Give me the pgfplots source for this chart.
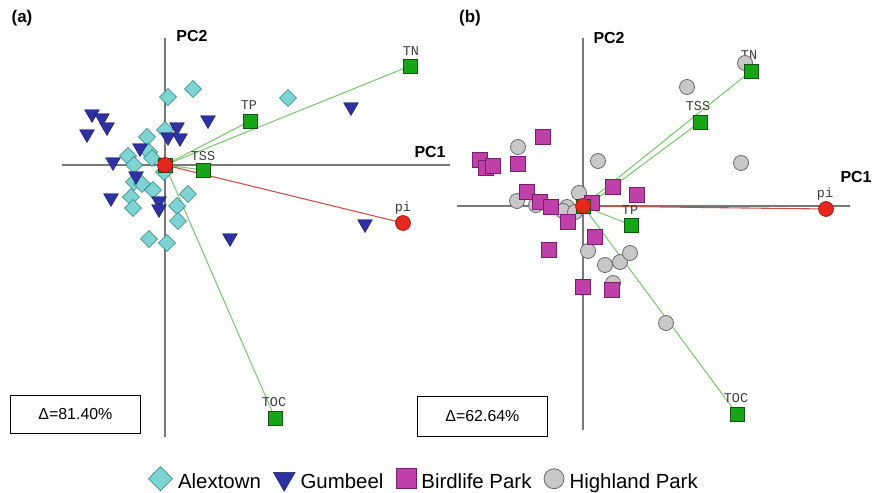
\documentclass[border=0pt]{standalone}
\usepackage{pgfplots}
\pgfplotsset{compat=1.18}
\usepackage{fontspec}
\setmainfont{Liberation Sans}
\newfontfamily\vecfont{Liberation Mono}
\definecolor{alexfill}{RGB}{125,212,210}
\definecolor{alexedge}{RGB}{40,130,130}
\definecolor{gumfill}{RGB}{45,50,160}
\definecolor{gumedge}{RGB}{30,30,110}
\definecolor{birdfill}{RGB}{192,64,170}
\definecolor{birdedge}{RGB}{120,30,110}
\definecolor{highfill}{RGB}{200,200,200}
\definecolor{highedge}{RGB}{105,105,105}
\definecolor{vecfill}{RGB}{25,165,25}
\definecolor{vecedge}{RGB}{15,85,15}
\definecolor{pifill}{RGB}{228,40,30}
\definecolor{piedge}{RGB}{150,20,20}
\definecolor{vecline}{RGB}{130,200,120}
\definecolor{piline}{RGB}{200,80,80}
\definecolor{axline}{RGB}{120,120,120}
\definecolor{labgray}{RGB}{60,60,60}
\pgfplotsset{
  pca/.style={x=1bp,y=1bp,axis lines=none,clip=false,anchor=south west},
  alex/.style={only marks,mark=square*,mark size=6bp,mark options={rotate=45,fill=alexfill,draw=alexedge,line width=0.6pt}},
  gum/.style={only marks,mark=triangle*,mark size=8.5bp,mark options={rotate=180,fill=gumfill,draw=gumedge,line width=0.5pt}},
  bird/.style={only marks,mark=square*,mark size=7.5bp,mark options={fill=birdfill,draw=birdedge,line width=0.6pt}},
  high/.style={only marks,mark=*,mark size=7.5bp,mark options={fill=highfill,draw=highedge,line width=0.8pt}},
  vsq/.style={only marks,mark=square*,mark size=7bp,mark options={fill=vecfill,draw=vecedge,line width=0.6pt}},
  vpi/.style={only marks,mark=*,mark size=7.5bp,mark options={fill=pifill,draw=piedge,line width=0.6pt}},
  vl/.style={vecline,line width=1.1pt,no marks},
  pl/.style={piline,line width=1.1pt,no marks},
  axl/.style={axline,line width=1.3pt,no marks},
}
\newcommand{\vlab}[1]{{\vecfont\fontsize{13.5}{13.5}\selectfont\color{labgray}#1}}
\begin{document}
\begin{tikzpicture}
\path[use as bounding box] (0,0) rectangle (878bp,493bp);
% ---------------- panel (a)
\begin{axis}[pca,at={(60bp,53bp)},xmin=-105,xmax=290,ymin=-275,ymax=135,
  legend columns=4,
  legend image code/.code={\draw[#1] plot coordinates {(0cm,0.35em)};},
  legend style={at={(0.920,-0.0951)},anchor=center,draw=none,fill=none,
    font=\fontsize{20.5}{22}\selectfont,
    nodes={inner sep=0.5bp},
    /tikz/every odd column/.append style={column sep=5bp},
    /tikz/every even column/.append style={column sep=12bp}},
  legend cell align=left]
\addplot[axl,forget plot] coordinates {(-103,0) (285,0)};
\addplot[axl,forget plot] coordinates {(0,127) (0,-272)};
\addplot[vl,forget plot] coordinates {(0,0) (245,99)};
\addplot[vl,forget plot] coordinates {(0,0) (85,44)};
\addplot[vl,forget plot] coordinates {(0,0) (38,-5)};
\addplot[vl,forget plot] coordinates {(0,0) (110,-253)};
\addplot[pl,forget plot] coordinates {(0,0) (238,-58)};
\addplot[alex,forget plot] coordinates {
(3,68) (28,76) (123,67) (0,35) (-18,28) (-37,9) (-16,13) (-13,7) (-31,0)
(-31,-17) (-23,-19) (-12,-25) (-34,-32) (-32,-43) (23,-29) (12,-41)
(13,-56) (-16,-74) (2,-78) (-1,-7)};
\addplot[gum,forget plot] coordinates {
(-73,51) (-63,47) (-58,38) (-78,31) (43,45) (12,38) (3,28) (15,27)
(186,58) (-25,17) (-52,3) (-29,-11) (-54,-33) (-6,-36) (-6,-44)
(200,-59) (65,-73)};
\addplot[vsq,forget plot] coordinates {(0,0) (245,99) (85,44) (38,-5) (110,-253)};
\addplot[vpi,forget plot] coordinates {(0,0) (238,-58)};
\node at (axis cs:246,114) {\vlab{TN}};
\node at (axis cs:84,60) {\vlab{TP}};
\node at (axis cs:38,9) {\vlab{TSS}};
\node at (axis cs:238,-43) {\vlab{pi}};
\node at (axis cs:109,-237) {\vlab{TOC}};
\addlegendimage{alex,mark size=8.5bp}\addlegendentry{Alextown}
\addlegendimage{gum,mark size=12.5bp}\addlegendentry{Gumbeel}
\addlegendimage{bird,mark size=10bp}\addlegendentry{Birdlife Park}
\addlegendimage{high,mark size=10bp}\addlegendentry{Highland Park}
\end{axis}
% ---------------- panel (b)
\begin{axis}[pca,at={(455bp,53bp)},xmin=-128,xmax=277,ymin=-234,ymax=176]
\addplot[axl,forget plot] coordinates {(-126,0) (267,0)};
\addplot[axl,forget plot] coordinates {(0,168) (0,-224)};
\addplot[vl] coordinates {(0,0) (168,135)};
\addplot[vl] coordinates {(4,0) (117,84)};
\addplot[vl] coordinates {(0,0) (48,-19)};
\addplot[vl] coordinates {(0,0) (154,-208)};
\addplot[pl] coordinates {(0,0) (243,-3)};
\addplot[high] coordinates {
(-65,59) (15,45) (-4,13) (-66,5) (-47,1) (-16,-1) (-20,-5) (-8,-6)
(5,-45) (22,-59) (37,-56) (47,-47) (30,-77) (83,-117) (104,119)
(158,43) (162,143)};
\addplot[bird] coordinates {
(-40,69) (-103,46) (-97,38) (-90,40) (-65,42) (-56,14) (-43,4) (-32,-1)
(-15,-16) (30,19) (54,11) (9,3) (12,-31) (-34,-44) (0,-81) (29,-84)};
\addplot[vsq] coordinates {(0,0) (168,135) (117,84) (48,-19) (154,-208)};
\addplot[vpi] coordinates {(0,0) (243,-3)};
\node at (axis cs:166,151) {\vlab{TN}};
\node at (axis cs:115,100) {\vlab{TSS}};
\node at (axis cs:47,-4) {\vlab{TP}};
\node at (axis cs:242,12) {\vlab{pi}};
\node at (axis cs:153,-192) {\vlab{TOC}};
\end{axis}
% ---------------- texts
\node[font=\bfseries\fontsize{17}{17}\selectfont] at (22bp,475bp) {(a)};
\node[font=\bfseries\fontsize{17}{17}\selectfont] at (470bp,475bp) {(b)};
\node[font=\bfseries\fontsize{16}{16}\selectfont] at (192bp,457bp) {PC2};
\node[font=\bfseries\fontsize{16}{16}\selectfont] at (609bp,455bp) {PC2};
\node[font=\bfseries\fontsize{16}{16}\selectfont] at (430bp,341bp) {PC1};
\node[font=\bfseries\fontsize{16}{16}\selectfont] at (856bp,316bp) {PC1};
\node[draw,line width=0.8pt,minimum width=130bp,minimum height=38bp,anchor=north west,
  font=\fontsize{16}{16}\selectfont] at (10bp,98bp) {Δ=81.40\%};
\node[draw,line width=0.8pt,minimum width=130bp,minimum height=40bp,anchor=north west,
  font=\fontsize{16}{16}\selectfont] at (417bp,97bp) {Δ=62.64\%};
\end{tikzpicture}
\end{document}
